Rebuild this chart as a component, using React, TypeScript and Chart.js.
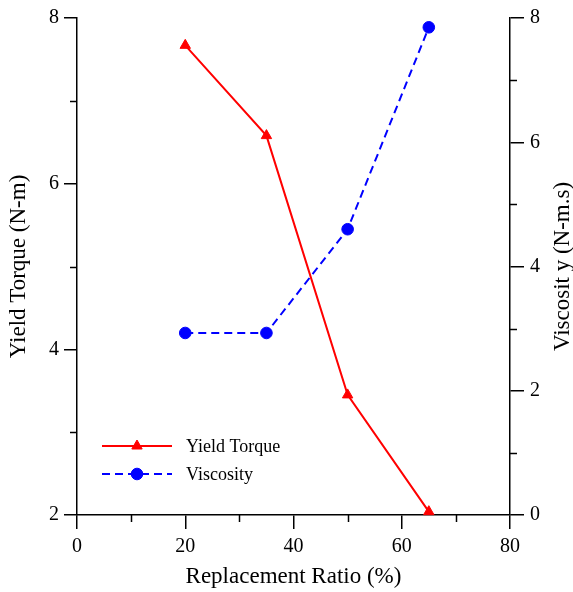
import React, { useEffect, useRef } from "react";
import { Chart, registerables } from "chart.js";

Chart.register(...registerables);

const ratio = [20, 35, 50, 65];
const yieldTorque = [7.67, 6.58, 3.45, 2.04];
const viscosity = [2.93, 2.93, 4.6, 7.85];
const xTicks = [0, 20, 40, 60, 80];
const xMinor = [10, 30, 50, 70];
const torqueTicks = [2, 4, 6, 8];
const torqueMinor = [3, 5, 7];
const viscTicks = [0, 2, 4, 6, 8];
const viscMinor = [1, 3, 5, 7];
const seriesNames = ["Yield Torque", "Viscosity"];
const xTitle = "Replacement Ratio (%)";
const yTitle = "Yield Torque (N-m)";
const y1Title = "Viscosit y (N-m.s)";

const FONT = "'Liberation Serif', 'Times New Roman', serif";
const RED = "#ff0000";
const BLUE = "#0000ff";
const TITLE_SIZE = 23;

function drawMarker(ctx: CanvasRenderingContext2D, style: string, x: number, y: number, r: number, color: string) {
  ctx.save();
  ctx.fillStyle = color;
  ctx.strokeStyle = color;
  ctx.lineWidth = 1;
  ctx.setLineDash([]);
  ctx.beginPath();
  if (style === "triangle") {
    let rad = 0;
    ctx.moveTo(x + Math.sin(rad) * r, y - Math.cos(rad) * r);
    rad += (2 * Math.PI) / 3;
    ctx.lineTo(x + Math.sin(rad) * r, y - Math.cos(rad) * r);
    rad += (2 * Math.PI) / 3;
    ctx.lineTo(x + Math.sin(rad) * r, y - Math.cos(rad) * r);
    ctx.closePath();
  } else {
    ctx.arc(x, y, r, 0, Math.PI * 2);
  }
  ctx.fill();
  ctx.stroke();
  ctx.restore();
}

const extrasPlugin = {
  id: "extras",
  afterDraw(chart: any) {
    const ctx: CanvasRenderingContext2D = chart.ctx;
    const { x, y, y1 } = chart.scales;
    const area = chart.chartArea;
    ctx.save();
    ctx.strokeStyle = "#000";
    ctx.lineWidth = 1.5;
    ctx.setLineDash([]);
    const minorLen = 7;
    xMinor.forEach((v) => {
      const px = Math.round(x.getPixelForValue(v)) + 0.5;
      ctx.beginPath();
      ctx.moveTo(px, area.bottom);
      ctx.lineTo(px, area.bottom + minorLen);
      ctx.stroke();
    });
    torqueMinor.forEach((v) => {
      const py = Math.round(y.getPixelForValue(v)) + 0.5;
      ctx.beginPath();
      ctx.moveTo(area.left, py);
      ctx.lineTo(area.left - minorLen, py);
      ctx.stroke();
    });
    viscMinor.forEach((v) => {
      const py = Math.round(y1.getPixelForValue(v)) + 0.5;
      ctx.beginPath();
      ctx.moveTo(area.right, py);
      ctx.lineTo(area.right + minorLen, py);
      ctx.stroke();
    });
    ctx.fillStyle = "#000";
    ctx.font = `${TITLE_SIZE}px ${FONT}`;
    ctx.textAlign = "center";
    ctx.textBaseline = "middle";
    ctx.translate(563, (area.top + area.bottom) / 2);
    ctx.rotate(-Math.PI / 2);
    ctx.fillText(y1Title, 0, 0);
    ctx.restore();

    const entries = [
      { name: seriesNames[0], color: RED, dash: [] as number[], style: "triangle", r: 6, y: 446 },
      { name: seriesNames[1], color: BLUE, dash: [8, 5], style: "circle", r: 5.8, y: 474 },
    ];
    entries.forEach((e) => {
      ctx.save();
      ctx.strokeStyle = e.color;
      ctx.lineWidth = 2;
      ctx.setLineDash(e.dash);
      ctx.beginPath();
      ctx.moveTo(102, e.y);
      ctx.lineTo(172, e.y);
      ctx.stroke();
      ctx.restore();
      drawMarker(ctx, e.style, 137, e.y, e.r, e.color);
      ctx.save();
      ctx.fillStyle = "#000";
      ctx.font = `18px ${FONT}`;
      ctx.textAlign = "left";
      ctx.textBaseline = "middle";
      ctx.fillText(e.name, 186, e.y + 1);
      ctx.restore();
    });
  },
};

export default function App() {
  const ref = useRef<HTMLCanvasElement | null>(null);
  useEffect(() => {
    if (!ref.current) return;
    const tickFont = { family: FONT, size: 20 };
    const gridCommon = {
      drawOnChartArea: false,
      drawTicks: true,
      color: "#000",
      lineWidth: 1.5,
    };
    const chart = new Chart(ref.current, {
      type: "scatter",
      data: {
        datasets: [
          {
            label: seriesNames[0],
            data: ratio.map((v, i) => ({ x: v, y: yieldTorque[i] })),
            yAxisID: "y",
            showLine: true,
            borderColor: RED,
            backgroundColor: RED,
            borderWidth: 2,
            pointStyle: "triangle",
            pointRadius: 6,
            pointBorderWidth: 1,
            clip: false,
          },
          {
            label: seriesNames[1],
            data: ratio.map((v, i) => ({ x: v, y: viscosity[i] })),
            yAxisID: "y1",
            showLine: true,
            borderColor: BLUE,
            backgroundColor: BLUE,
            borderWidth: 2,
            borderDash: [8, 5],
            pointStyle: "circle",
            pointRadius: 5.8,
            pointBorderWidth: 1,
            clip: false,
          },
        ],
      },
      options: {
        animation: false,
        responsive: false,
        events: [],
        layout: { padding: { top: 15, left: 0, right: 0, bottom: 0 } },
        plugins: { legend: { display: false }, tooltip: { enabled: false } },
        scales: {
          x: {
            type: "linear",
            position: "bottom",
            min: 0,
            max: 80,
            afterBuildTicks: (s: any) => {
              s.ticks = xTicks.map((v) => ({ value: v }));
            },
            afterFit: (s: any) => {
              s.height = 77;
            },
            grid: { ...gridCommon, tickLength: 14 },
            border: { display: true, color: "#000", width: 1.5 },
            ticks: { font: tickFont, color: "#000", padding: 6, maxRotation: 0, autoSkip: false },
            title: {
              display: true,
              text: xTitle,
              color: "#000",
              font: { family: FONT, size: TITLE_SIZE },
              padding: { top: 0, bottom: 1 },
            },
          },
          y: {
            type: "linear",
            position: "left",
            min: 2,
            max: 8,
            afterBuildTicks: (s: any) => {
              s.ticks = torqueTicks.map((v) => ({ value: v }));
            },
            afterFit: (s: any) => {
              s.width = 77;
            },
            grid: { ...gridCommon, tickLength: 13 },
            border: { display: true, color: "#000", width: 1.5 },
            ticks: { font: tickFont, color: "#000", padding: 5, autoSkip: false },
            title: {
              display: true,
              text: yTitle,
              color: "#000",
              font: { family: FONT, size: TITLE_SIZE },
              padding: { top: 5, bottom: 0 },
            },
          },
          y1: {
            type: "linear",
            position: "right",
            min: 0,
            max: 8,
            afterBuildTicks: (s: any) => {
              s.ticks = viscTicks.map((v) => ({ value: v }));
            },
            afterFit: (s: any) => {
              s.width = 63;
            },
            grid: { ...gridCommon, tickLength: 14 },
            border: { display: true, color: "#000", width: 1.5 },
            ticks: { font: tickFont, color: "#000", padding: 6, autoSkip: false },
            title: { display: false },
          },
        },
      } as any,
      plugins: [extrasPlugin],
    });
    return () => chart.destroy();
  }, []);
  return (
    <div style={{ position: "fixed", left: 0, top: 0, width: 573, height: 592, background: "#fff" }}>
      <canvas ref={ref} width={573} height={592} style={{ display: "block" }} />
    </div>
  );
}
